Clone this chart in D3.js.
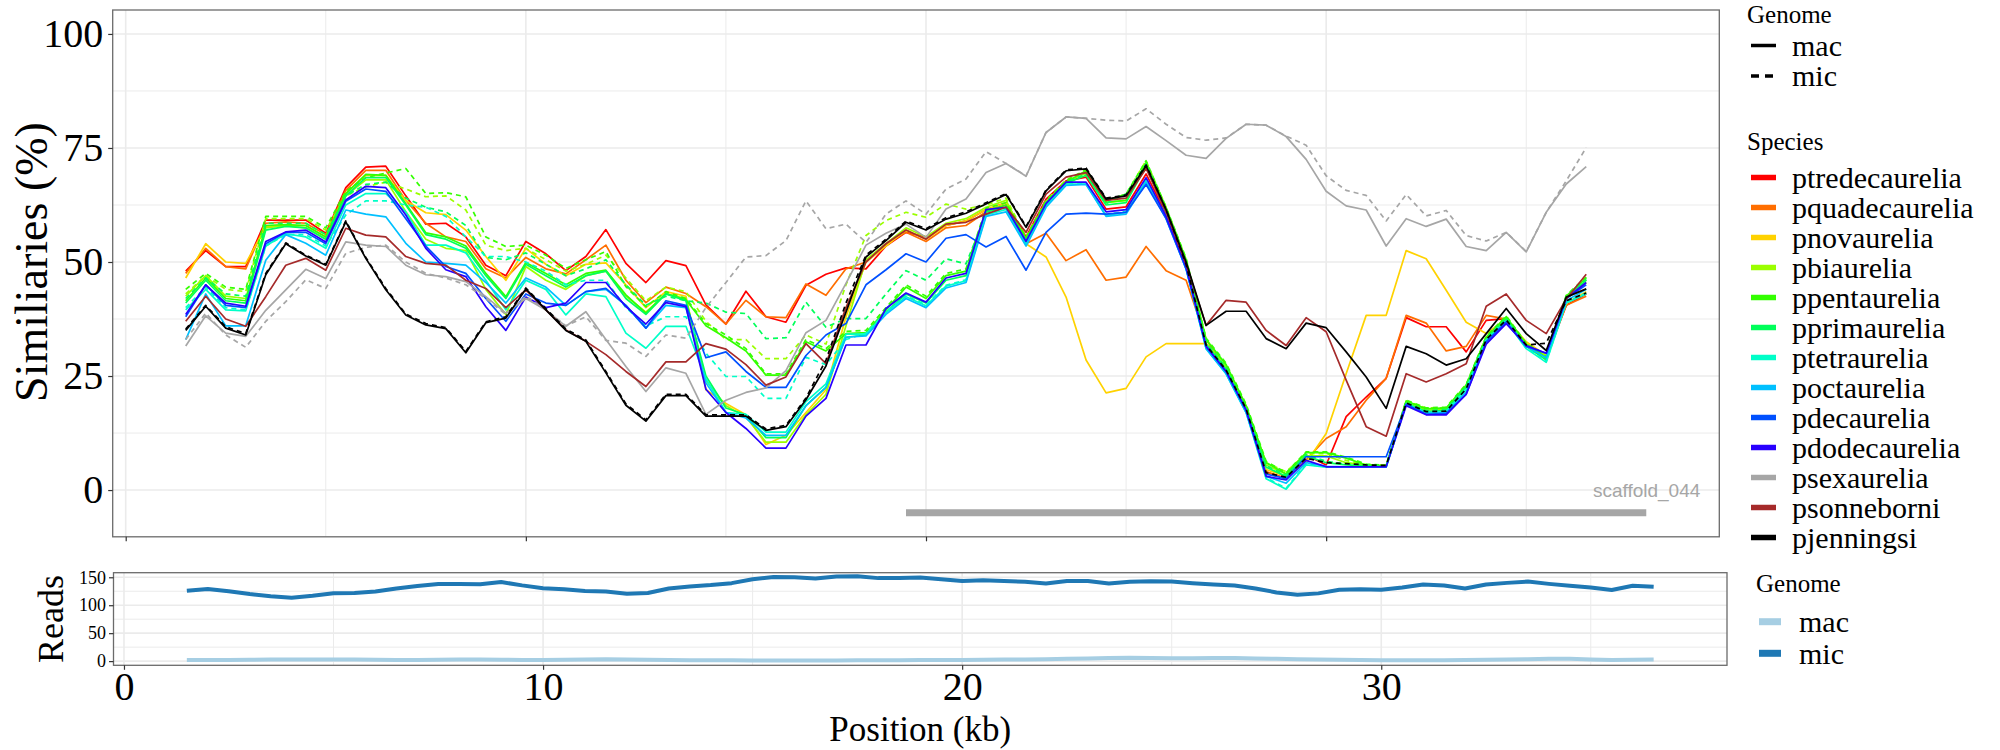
<!DOCTYPE html>
<html>
<head>
<meta charset="utf-8">
<script src="https://cdn.jsdelivr.net/npm/d3@7/dist/d3.min.js"></script>
<style>
html,body{margin:0;padding:0;background:#fff;}
svg{display:block;}
</style>
</head>
<body>
<svg id="chart" width="2000" height="750"></svg>
<script>
// ---------------- DATA ----------------
const positions = [1.5,2,2.5,3,3.5,4,4.5,5,5.5,6,6.5,7,7.5,8,8.5,9,9.5,10,10.5,11,11.5,12,12.5,13,13.5,14,14.5,15,15.5,16,16.5,17,17.5,18,18.5,19,19.5,20,20.5,21,21.5,22,22.5,23,23.5,24,24.5,25,25.5,26,26.5,27,27.5,28,28.5,29,29.5,30,30.5,31,31.5,32,32.5,33,33.5,34,34.5,35,35.5,36,36.5];

const species = ["ptredecaurelia","pquadecaurelia","pnovaurelia","pbiaurelia","ppentaurelia","pprimaurelia","ptetraurelia","poctaurelia","pdecaurelia","pdodecaurelia","psexaurelia","psonneborni","pjenningsi"];
const speciesColors = ["#FF0000","#FF6E00","#FFD200","#9BFF00","#33FF00","#00FF5A","#00FFC8","#00C0FF","#0050FF","#2800FF","#A6A6A6","#A52A2A","#000000"];
const genomes = ["mac","mic"];

const mac_ptredecaurelia = [48,52.5,49,49,59.2,59.2,59.2,56.3,66.3,70.8, 71,64.5,58.3,58.5,55.5,49.3,47,54.5,51.8,48.1, 51.2,57.1,49.7,45.5,50.3,49.2,40.6,36.4,43.6,38, 36.8,44.9,47.3,48.7,48.5,53.5,56.5,55.5,58,59, 61.5,63,55.5,63.8,67.8,68.6,61.6,62.1,69.3,60.5, 49,32,26.5,18,4,2.5,7.7,5.5,16.1,20.4, 24.5,37.8,35.8,35.8,30.3,37.2,37.6,32,29,40.5,43];
const mac_pquadecaurelia = [47.5,53,49,48.5,58.5,58.8,58.5,56,65.7,70.1, 70.1,63.5,58.5,55.5,54.5,48.5,46.5,51,48.5,47.4, 50.5,53.7,46,41.1,44.5,43.1,40.2,36.4,41.6,38, 37.8,45.2,42.7,48.5,50,54,56.5,54.5,57.5,58, 61,62.5,54,56.3,50.3,52.7,46,46.7,53.4,48.1, 46,33,26.5,18,4,2.5,6.6,11.3,13.9,19.7, 24.5,38.3,36.6,30.5,31.5,38.3,37.5,32,29.5,40.5,42.5];
const mac_pnovaurelia = [46.5,54,50,49.7,57.7,58,58,55.5,65,69, 69,63.5,60.8,60.4,57,51.2,46,53,49.5,47, 49.5,49.8,45,40,43.5,42.5,22,19,16.5,10, 12,17,22,38,50,53.5,57,55,58,59, 61.5,63,54,51.1,42.3,28.5,21.3,22.3,29.2,32.1, 32.1,32.1,26.5,18,4.5,3,6,12.4,25.5,38.3, 38.3,52.5,50.7,43.8,36.8,34.3,37.5,32.5,29.5,41,43.5];
const mac_pbiaurelia = [42.5,47,42.5,42,57.5,58,57.5,55,64.5,68, 68,61,55,53,52.5,44,38.5,49,46,44, 47,48,42.5,39,43,42,24,18.5,16,10.5, 10.5,16.5,21,36,50.5,54,57.5,55.5,58.5,59.5, 62,63.5,55,63.2,67.5,69.5,63,63.5,71.5,61.5, 50,32,27,17.5,5.5,3.5,7.5,7.5,6,5.5, 5.2,19.2,17.5,17.8,22.5,33.5,37.8,32,29.5,42,45.5];
const mac_ppentaurelia = [41.5,46.5,42,41.5,58,58.2,58,55.5,65,69.2, 69,62.8,56.4,55.5,53.5,47.5,42.4,49.9,47.5,45, 47.5,48.2,42.8,38.8,43.1,41.7,36,33.4,30.5,25.2, 25.2,32.5,30.5,34.3,34.5,39.5,44.5,42,47,48, 61.3,62.5,55,63.1,67.5,70,63.1,63.5,71.8,61.8, 50.5,33,27.5,18.5,6,3.5,8.2,8.2,7,5.5, 5.2,19.5,17.8,18,23,33.5,38,32,29,42.5,46.5];
const mac_pprimaurelia = [41,46,41.5,41,57,57.8,57.5,55,64.5,68.5, 68.5,62.5,56,55,53,47,42,49.5,47,44.5, 47,48,42,38.5,43,41.5,25,18,16.5,11.5, 11.5,18.5,22.5,33.5,34,39,43,41,46,47, 61,62,54.5,62.8,67.2,69,62.5,63,71,61, 49.5,32,26.5,17.5,5,3,7.5,6,5.5,5.3, 5.1,19,17.2,17.5,22.5,33,37.5,31.5,28.5,42,46];
const mac_ptetraurelia = [39.5,44,39.5,39.3,53.5,56.2,55.5,53,62.5,65, 65,61,53.7,53.7,52,46,39.5,46,44,38.4, 43,42.4,34.4,31.1,35.9,35.9,24.4,17,16.6,12.7, 12.7,19.4,23.3,34.2,34.2,38.9,42.4,40.4,44.7,45.9, 60.3,61.5,54,62.4,67.1,67.1,60.2,60.9,67.8,60, 48.5,31,25.5,17,2.5,0.2,5.5,5,5.1,5.1, 5.1,18.8,17,17.2,22,32.8,37,31,28,41,43];
const mac_poctaurelia = [33,43,36,36,50.4,56,54.1,51.5,61.4,60.5, 59.9,54.1,50,49.7,49.3,45.5,41,46.5,44.5,40.5, 43.5,44,40.5,35.5,40.5,40,23.5,17,15.8,12, 12,18.5,22.5,33.5,33.8,38.5,42,40,44.3,45.5, 60,61,53.5,62,66.8,67,60,60.5,67.5,59.5, 48.5,31,25.5,17,3,1.5,6,5.2,5.1,5.1, 5.1,18.8,16.8,17,21.5,32.5,37,31.5,29,41.5,44];
const mac_pdecaurelia = [38,45,40.5,40,54,56.5,56.5,54,63.3,66, 65.5,59.5,53.5,49,47.5,42,37,43,41,40.5, 43.5,44.2,40.5,35.5,41.5,40.5,29,30.3,26,22.5, 22.5,29.5,34,36.5,45,48.3,51.8,50,55.2,56, 53.3,55.6,48.2,56.5,60.5,60.7,60.5,60.9,67,59.5, 48.5,31.5,26,17.5,3.5,2.5,7.3,7.3,7.3,7.3, 7.3,18.8,16.6,16.8,21,32.5,36.8,31.5,30,42,45];
const mac_pdodecaurelia = [38.5,45,41,40.3,54.5,56.6,57,54.4,63.6,66.6, 66.3,60.3,53,48.3,46.8,40.2,35,42.3,40,41, 45.5,45.5,40.2,36.4,41.1,40.2,22.1,17,13.5,9.2, 9.2,16.2,20.1,31.8,31.8,39.8,43.2,41.2,46.5,47.5, 61.5,62,54.5,62.8,67.5,67.5,61,61.5,68.5,60, 49,31.5,26,17.5,3,2.2,6.5,5.1,5.1,5.1, 5.1,18.5,16.5,16.5,21,32,36.5,31.7,30,42,45.5];
const mac_psexaurelia = [31.6,38.2,34.4,33.7,39.4,43.9,48.4,46.4,54.4,53.7, 53.4,49.3,47.2,46.8,45.7,42.4,38.8,42,39.5,35.9, 39.1,33,27.1,21.6,26.8,25.6,16.6,19.7,21.4,22.4, 26.2,34.5,37.2,45.3,53.7,56.3,58.3,55.4,61.6,63.8, 69.6,71.6,68.8,78.4,81.8,81.5,77.2,77,79.7,76.6, 73.4,72.7,77.1,80.2,80,77.5,72.5,65.5,62.3,61.4, 53.5,59.5,57.8,59.4,53.4,52.5,56.5,52.2,60.9,67.1,70.9];
const mac_psonneborni = [37,42.5,37.5,35.9,42.4,49.3,50.8,48.2,57.4,55.9, 55.5,51.2,49.7,49.3,46,44.2,40,43.9,39.5,35.1, 32.6,29.7,26,22.7,28.1,28.1,32.1,30.9,27.5,23, 24.8,32.1,27.7,40,50,54,57,55,58.3,58.7, 60.5,62,56.5,64.9,68.6,69.6,63.5,64,70.5,61, 49.5,36.1,41.6,41.2,35,31.7,37.8,34.7,24.1,13.9, 11.8,25.5,23.7,25.5,27.7,40.3,43,37.2,34.3,41.9,47.3];
const mac_pjenningsi = [35,40.3,35.5,34,47.2,54,51.3,49.3,58.8,50.8, 43.9,38.4,36.2,35.4,30.1,36.7,37.7,44.1,39.5,35, 32.6,25.7,18.6,15.1,20.7,20.7,16.2,16.2,16.2,13.1, 13.9,19.8,27.2,39,51.1,54.7,58.7,57,59.4,60.7, 62.7,64.8,57.6,65.6,70,70.4,63.8,64.5,71.1,61.5, 50,36.1,39.2,39.2,33.2,31,36.6,35.6,30.3,24.8, 17.9,31.5,29.9,27.4,28.8,34.3,39.8,34.3,30.6,42.3,44.1];

const mic_pbiaurelia = [43,47,44,43.5,59.5,59.5,59.5,57,64.5,66.5, 67.5,66,64.3,64.5,61.4,53.7,52.5,53,50.5,48, 49.5,51.5,46.5,41.5,44.5,43.5,37,33,33,28.8, 28.8,34,32,45,55.8,59.1,60.9,59.8,62.7,61.6, 62.5,64,55.5,63.5,68,70,63.5,64.9,72.2,62, 50.5,33,27,18,6,4,8,8,6.5,5.5, 5.5,19.5,18,18,23,33.5,38,32,29.5,42,46];
const mic_ppentaurelia = [44,47.5,44.5,44,60,60,60,57.5,65.5,68.5, 69.5,70.5,65,65.2,64.3,55.5,53.4,53.7,51.5,48.6, 50.5,52.3,44.6,40.2,43.5,42,36.5,34,31,25.5, 25.5,33,31,34.8,35,40,45,42.5,47.5,48.5, 61.8,63,55.3,63.4,67.8,70.3,63.4,64.9,72.2,62, 50.8,33.3,27.8,18.8,6.3,3.8,8.4,8.4,7.2,5.7, 5.4,19.7,18,18.2,23.2,33.7,38.2,32.2,29.2,42.7,46.7];
const mic_pprimaurelia = [42,46.5,43,42.5,58.5,58.5,58.5,56,64.5,67, 67.5,64,62,61,58,51,50.5,52,49.5,47, 48.5,50.5,45,40.5,42.5,41.5,41,39,38.7,33.2, 33.4,41.2,35.7,37.6,37.6,43,48.1,46,50.7,49.6, 60.5,62,54.8,63,67.4,69.3,62.8,64.9,71.5,61.2, 49.8,32.3,26.8,17.8,5.3,3.3,7.8,6.3,5.7,5.5, 5.3,19.2,17.4,17.7,22.7,33.2,37.7,31.7,28.7,42.2,46.2];
const mic_ptetraurelia = [40,44.5,40,39.5,53.5,56,56,53.5,60.3,63.4, 63.4,62.5,62,60,55.5,51.2,51.2,50,48,45, 46,46,40,36,38,38,30,24.9,24.9,20.1, 20.1,29.1,27.5,33,34.4,39.1,42.6,40.6,44.9,46.1, 60.5,61.7,54.2,62.6,67.3,67.3,60.4,61.1,68,60.2, 48.7,31.2,25.7,17.2,2.7,0.4,5.7,5.1,5.1,5.1, 5.1,18.9,17.1,17.3,22.2,33,37.2,31.2,28.2,41.2,43.2];
const mic_psexaurelia = [33,38.8,34,31.3,37,41.3,46.1,44.2,51.9,53.2, 53.7,50,47.5,46.5,45,42,38.5,42.5,39.5,36, 38,32.8,32.2,29.3,34,33.3,40,45.5,51.1,51.4, 54.7,63.4,57.3,58.3,54.3,60.5,63.4,60.5,66,68.2, 74.2,71.6,68.9,78.4,81.8,81.5,81.1,80.9,83.6,80.2, 77.3,76.7,77.2,80.2,80,77.6,75.6,68.9,65.7,64.6, 59,64.8,60.1,61.3,55.8,54.6,56.5,52.3,60.9,67.8,75.1];
const mic_pjenningsi = [35.3,40.5,35.8,34.3,47.5,54.2,51.5,49.5,59,51, 44.2,38.6,36.5,35.6,30.4,36.9,38,44.3,39.8,35.3, 32.9,26,18.9,15.4,21,21,16.5,16.5,16.5,13.4, 14.2,20.2,28.5,41,51.5,55,59,57.3,59.7,61, 63,65,57.8,65.8,70.2,70.6,64,64.7,71.3,61.5, 49.5,31.8,26.3,17.8,3.8,2.8,7,6,5.8,5.5, 5.4,19.1,17.2,17.3,22.2,33,37.3,31.8,32.2,41.5,43.2];

const readsMac = [2,2,2,2.5,3,3,3,3,3,2.5, 2,2,2.5,3,3,2.5,2,2,2.5,3, 3.5,3,2.5,2,1.5,1.5,1.5,1,1,1, 1,1,1.5,1.5,1.5,2,2,2,2.5,3, 3,3.5,4,4.5,5.5,6,5.5,5,5,5.5, 5.5,4.5,4,3.5,3,2.5,2,1.5,1.5,1.5, 1.5,2,2.5,3,3.5,4,4,3,2,2.5,3];
const readsMic = [126,129,125,120,116,113.5,117,121.5,122,124.5, 130,134.5,138,138,137.5,141.5,135.5,130.5,128.5,125.5, 124.5,120.5,122,130,133.5,136,139.5,146.5,150.5,150, 148,151.5,152,148.5,148.5,149.5,146.5,143.5,144.5,143.5, 141.9,138.8,143.5,143.5,138.8,141.9,143,142.4,139.4,137.1, 135.3,130,122.9,118.8,121.2,127.6,128.8,127.6,131.8,137.1, 135.3,130,137.1,140,142.4,138.2,134.7,131.8,127.1,134.7,132.9];
const readsColors = ["#A6CEE3","#1F78B4"];

const scaffoldName = "scaffold_044";
const scaffoldBar = [19.5, 38];
const scaffoldLevel = -5;

const simTicks = [0,25,50,75,100];
const simMinor = [12.5,37.5,62.5,87.5];
const posTicks = [0,10,20,30];
const posMinor = [5,15,25,35];
const readTicks = [0,50,100,150];
const readMinor = [25,75,125];

// ---------------- BUILD TABLES ----------------
const macList = [mac_ptredecaurelia,mac_pquadecaurelia,mac_pnovaurelia,mac_pbiaurelia,mac_ppentaurelia,mac_pprimaurelia,mac_ptetraurelia,mac_poctaurelia,mac_pdecaurelia,mac_pdodecaurelia,mac_psexaurelia,mac_psonneborni,mac_pjenningsi];
const micBySpecies = {pbiaurelia:mic_pbiaurelia, ppentaurelia:mic_ppentaurelia, pprimaurelia:mic_pprimaurelia, ptetraurelia:mic_ptetraurelia, psexaurelia:mic_psexaurelia, pjenningsi:mic_pjenningsi};
const simSeries = [];
species.forEach((sp,k)=>{
  simSeries.push({species:sp, genome:"mac", color:speciesColors[k], pts: positions.map((p,i)=>({x:p,y:macList[k][i]}))});
  if (micBySpecies[sp]) simSeries.push({species:sp, genome:"mic", color:speciesColors[k], pts: positions.map((p,i)=>({x:p,y:micBySpecies[sp][i]}))});
});
const readSeries = [
  {genome:"mac", color:readsColors[0], pts: positions.map((p,i)=>({x:p,y:readsMac[i]}))},
  {genome:"mic", color:readsColors[1], pts: positions.map((p,i)=>({x:p,y:readsMic[i]}))}
];

// ---------------- LAYOUT ----------------
const SERIF = "'Liberation Serif','Times New Roman',Times,serif";
const SANS = "'Liberation Sans',Arial,Helvetica,sans-serif";
const P1 = {x0:112.7, x1:1719.3, y0:10, y1:536.8};
const P2 = {x0:113.5, x1:1727, y0:572.7, y1:665.3};
const expand = (a,b,f=0.05)=>{const r=b-a; return [a-r*f, b+r*f];};

const xs1 = d3.scaleLinear().domain(expand(d3.min(positions), scaffoldBar[1])).range([P1.x0,P1.x1]);
const ys1 = d3.scaleLinear().domain(expand(scaffoldLevel, 100)).range([P1.y1,P1.y0]);
const xs2 = d3.scaleLinear().domain(expand(d3.min(positions), d3.max(positions))).range([P2.x0,P2.x1]);
const ys2 = d3.scaleLinear().domain([-7.5, 158.2]).range([P2.y1,P2.y0]);

const svg = d3.select("#chart");
svg.append("rect").attr("width",2000).attr("height",750).attr("fill","#fff");

function serifText(sel, size){
  return sel.style("font-family", SERIF).style("font-size", size+"px").attr("fill","#000");
}

function drawGrid(P, xs, ys, xMaj, xMin, yMaj, yMin){
  const g = svg.append("g");
  const hl = (v,w)=>g.append("line").attr("x1",P.x0).attr("x2",P.x1).attr("y1",ys(v)).attr("y2",ys(v)).attr("stroke","#EBEBEB").attr("stroke-width",w);
  const vl = (v,w)=>g.append("line").attr("y1",P.y0).attr("y2",P.y1).attr("x1",xs(v)).attr("x2",xs(v)).attr("stroke","#EBEBEB").attr("stroke-width",w);
  yMin.forEach(v=>hl(v,1)); xMin.forEach(v=>vl(v,1));
  yMaj.forEach(v=>hl(v,1.6)); xMaj.forEach(v=>vl(v,1.6));
}
drawGrid(P1, xs1, ys1, posTicks, posMinor, simTicks, simMinor);
drawGrid(P2, xs2, ys2, posTicks, posMinor, readTicks, readMinor);

// scaffold bar + label
svg.append("line").attr("x1",xs1(scaffoldBar[0])).attr("x2",xs1(scaffoldBar[1]))
  .attr("y1",ys1(scaffoldLevel)).attr("y2",ys1(scaffoldLevel))
  .attr("stroke","#A6A6A6").attr("stroke-width",7);
svg.append("text").attr("x",xs1(39.35)).attr("y",ys1(0)).attr("text-anchor","end")
  .attr("dominant-baseline","central").style("font-family",SANS).style("font-size","19px")
  .attr("fill","#A6A6A6").text(scaffoldName);

// similarity lines
const line1 = d3.line().x(d=>xs1(d.x)).y(d=>ys1(d.y));
const gl = svg.append("g");
simSeries.forEach(s=>{
  gl.append("path").attr("d",line1(s.pts)).attr("fill","none").attr("stroke",s.color)
    .attr("stroke-width",1.7).attr("stroke-linejoin","round")
    .attr("stroke-dasharray", s.genome==="mic" ? "5,4" : null);
});

// reads lines
const line2 = d3.line().x(d=>xs2(d.x)).y(d=>ys2(d.y));
readSeries.forEach(s=>{
  svg.append("path").attr("d",line2(s.pts)).attr("fill","none").attr("stroke",s.color)
    .attr("stroke-width",4).attr("stroke-linejoin","round");
});

// panel borders
[P1,P2].forEach(P=>svg.append("rect").attr("x",P.x0).attr("y",P.y0).attr("width",P.x1-P.x0).attr("height",P.y1-P.y0)
  .attr("fill","none").attr("stroke","#6b6b6b").attr("stroke-width",1.3));

// axes
function styleAxis(g, size){
  g.select(".domain").remove();
  g.selectAll(".tick line").attr("stroke","#333").attr("stroke-width",1.2);
  serifText(g.selectAll(".tick text"), size);
}
svg.append("g").attr("transform",`translate(${P1.x0},0)`)
  .call(d3.axisLeft(ys1).tickValues(simTicks).tickSize(4.5).tickPadding(5)).call(g=>styleAxis(g,40));
svg.append("g").attr("transform",`translate(0,${P1.y1})`)
  .call(d3.axisBottom(xs1).tickValues(posTicks).tickSize(4.5).tickFormat("")).call(g=>styleAxis(g,40));
svg.append("g").attr("transform",`translate(${P2.x0},0)`)
  .call(d3.axisLeft(ys2).tickValues(readTicks).tickSize(4.5).tickPadding(3)).call(g=>styleAxis(g,18));
svg.append("g").attr("transform",`translate(0,${P2.y1})`)
  .call(d3.axisBottom(xs2).tickValues(posTicks).tickSize(4.5).tickPadding(1.8)).call(g=>styleAxis(g,40));

// axis titles
serifText(svg.append("text").attr("transform","translate(47,262) rotate(-90)").attr("text-anchor","middle"), 46).text("Similiaries (%)");
serifText(svg.append("text").attr("transform","translate(51,619) rotate(-90)").attr("text-anchor","middle")
  .attr("dominant-baseline","central"), 36).text("Reads");
serifText(svg.append("text").attr("x",(P2.x0+P2.x1)/2).attr("y",741).attr("text-anchor","middle"), 35).text("Position (kb)");

// legends (top)
const lg = svg.append("g");
serifText(lg.append("text").attr("x",1747).attr("y",23), 25).text("Genome");
genomes.forEach((gname,k)=>{
  const y = 45.5 + 30.4*k;
  lg.append("line").attr("x1",1751).attr("x2",1776).attr("y1",y).attr("y2",y).attr("stroke","#000")
    .attr("stroke-width",3.5).attr("stroke-dasharray", gname==="mic" ? "8,6" : null);
  serifText(lg.append("text").attr("x",1792).attr("y",y).attr("dominant-baseline","central"), 30).text(gname);
});
serifText(lg.append("text").attr("x",1747).attr("y",150), 25).text("Species");
species.forEach((sp,k)=>{
  const y = 177.5 + 30*k;
  lg.append("line").attr("x1",1751).attr("x2",1776).attr("y1",y).attr("y2",y).attr("stroke",speciesColors[k]).attr("stroke-width",5.5);
  serifText(lg.append("text").attr("x",1792).attr("y",y).attr("dominant-baseline","central"), 30).text(sp);
});
// legend (bottom)
serifText(lg.append("text").attr("x",1756).attr("y",592), 25).text("Genome");
genomes.forEach((gname,k)=>{
  const y = 621.7 + 31.6*k;
  lg.append("line").attr("x1",1759).attr("x2",1781).attr("y1",y).attr("y2",y).attr("stroke",readsColors[k]).attr("stroke-width",7);
  serifText(lg.append("text").attr("x",1799).attr("y",y).attr("dominant-baseline","central"), 30).text(gname);
});
</script>
</body>
</html>
